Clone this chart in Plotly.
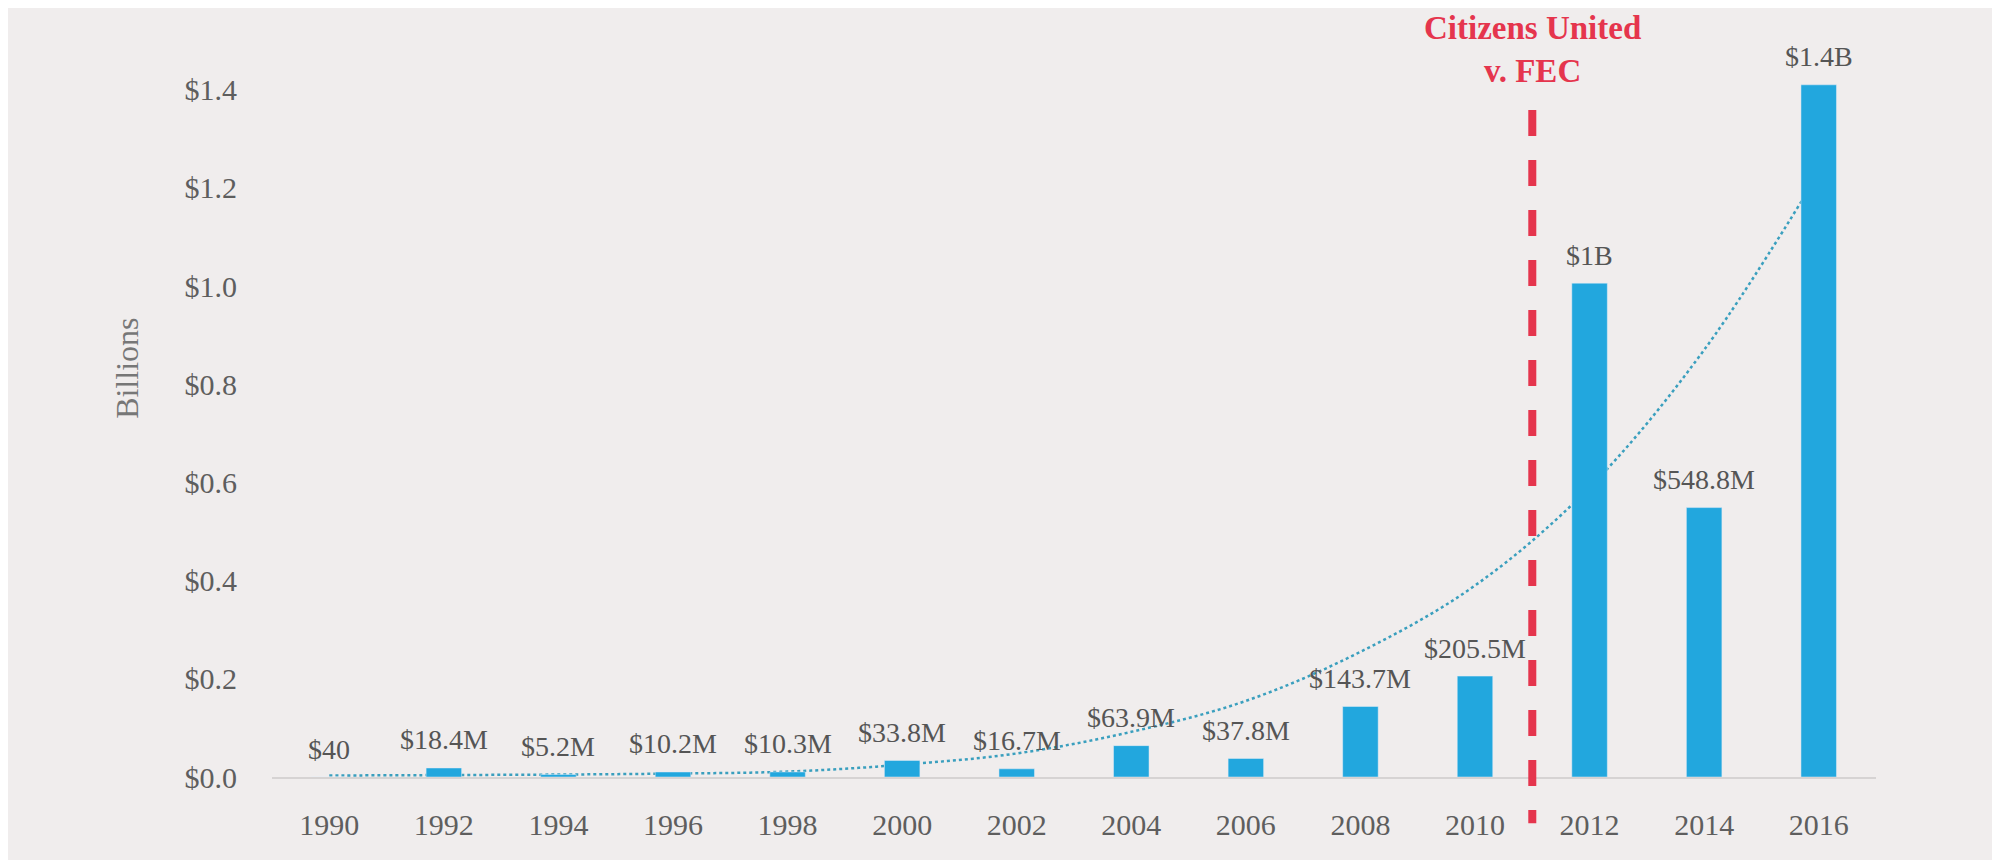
import plotly.graph_objects as go

# election cycles and outside spending (billions of dollars)
years = ["1990", "1992", "1994", "1996", "1998", "2000", "2002",
         "2004", "2006", "2008", "2010", "2012", "2014", "2016"]
spending = [0.00000004, 0.0184, 0.0052, 0.0102, 0.0103, 0.0338, 0.0167,
            0.0639, 0.0378, 0.1437, 0.2055, 1.006, 0.5488, 1.41]
labels = ["$40", "$18.4M", "$5.2M", "$10.2M", "$10.3M", "$33.8M", "$16.7M",
          "$63.9M", "$37.8M", "$143.7M", "$205.5M", "$1B", "$548.8M", "$1.4B"]
# dotted trend curve at each cycle
trend = [0.003, 0.004, 0.005, 0.007, 0.011, 0.025, 0.048,
         0.092, 0.155, 0.255, 0.39, 0.59, 0.87, 1.23]

BG = "#f0eded"
FONT = "Liberation Serif"
yrange = [0, 1.542]
xrange = [-0.5, 13.5]

fig = go.Figure()

# trend line sits on the base axes so the bars cover it
fig.add_trace(go.Scatter(
    x=years, y=trend, mode="lines", line_shape="spline",
    line=dict(color="#3a9fbe", width=2.5, dash="dot"),
    hoverinfo="skip", showlegend=False,
))
fig.add_trace(go.Bar(
    x=years, y=spending, width=0.31, marker_color="#22a7de",
    xaxis="x2", yaxis="y2", showlegend=False,
))

# value labels above each bar (category index on the x axis)
annotations = [
    dict(x=i, y=v, xref="x", yref="y", text=t, showarrow=False,
         xanchor="center", yanchor="middle", yshift=28,
         font=dict(family=FONT, size=28, color="#555555"))
    for i, (v, t) in enumerate(zip(spending, labels))
]
annotations.append(dict(
    x=10.5, y=0.961, xref="x", yref="paper", showarrow=False,
    xanchor="center", yanchor="middle",
    text="<b>Citizens United<br>v. FEC</b>", align="center",
    font=dict(family=FONT, size=33, color="#e5354d"),
))
annotations.append(dict(
    x=-0.09, y=0.54, xref="paper", yref="paper", showarrow=False,
    xanchor="center", yanchor="middle",
    text="Billions", textangle=-90,
    font=dict(family=FONT, size=32, color="#777777"),
))

fig.add_shape(
    type="line", xref="x", yref="paper", x0=10.5, x1=10.5, y0=0.881, y1=-0.061,
    line=dict(color="#e5354d", width=8, dash="26px,24px"),
)

fig.update_layout(
    width=2000, height=860,
    margin=dict(l=264, r=132, t=12, b=91),
    paper_bgcolor=BG, plot_bgcolor=BG,
    annotations=annotations,
    xaxis=dict(type="category", categoryarray=years, range=xrange,
               showgrid=False, zeroline=False, showline=True,
               linecolor="#d6d3d3", linewidth=2, ticks="",
               ticklabelstandoff=20,
               tickfont=dict(family=FONT, size=30, color="#5e5e5e")),
    yaxis=dict(range=yrange, dtick=0.2, tickprefix="$", tickformat=".1f",
               showgrid=False, zeroline=False, showline=False, ticks="",
               ticklabelstandoff=34,
               tickfont=dict(family=FONT, size=30, color="#5e5e5e")),
    xaxis2=dict(type="category", categoryarray=years, range=xrange,
                overlaying="x", visible=False),
    yaxis2=dict(range=yrange, overlaying="y", visible=False),
)

fig.write_html("out.html")
